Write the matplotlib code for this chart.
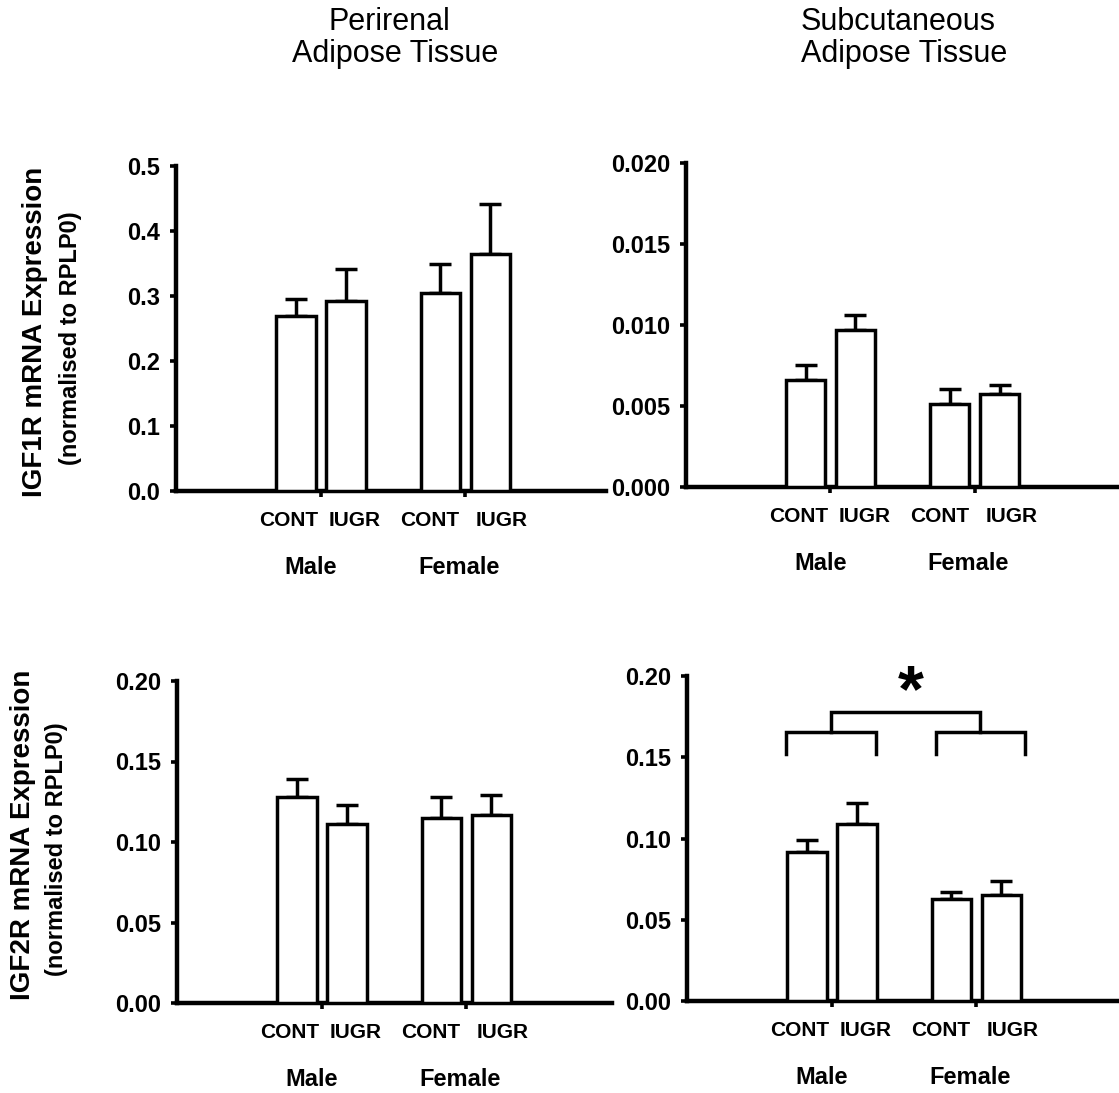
import matplotlib
matplotlib.use('Agg')
import matplotlib.pyplot as plt

plt.rcParams['font.family'] = ['Liberation Sans', 'DejaVu Sans']

# ---------------- data ----------------
groups = ['Male', 'Female']
bar_labels = ['CONT', 'IUGR', 'CONT', 'IUGR']

igf1r_peri_mean = [0.269, 0.292, 0.305, 0.364]
igf1r_peri_sem = [0.027, 0.050, 0.044, 0.078]

igf1r_subq_mean = [0.00658, 0.00971, 0.00514, 0.00574]
igf1r_subq_sem = [0.00093, 0.00088, 0.00091, 0.00053]

igf2r_peri_mean = [0.128, 0.111, 0.115, 0.117]
igf2r_peri_sem = [0.011, 0.012, 0.013, 0.012]

igf2r_subq_mean = [0.092, 0.109, 0.063, 0.0655]
igf2r_subq_sem = [0.007, 0.0128, 0.004, 0.0082]

igf1r_ticks = [0.0, 0.1, 0.2, 0.3, 0.4, 0.5]
igf1r_subq_ticks = [0.000, 0.005, 0.010, 0.015, 0.020]
igf2r_ticks = [0.00, 0.05, 0.10, 0.15, 0.20]

# ---------------- layout ----------------
W, H = 1119, 1093
fig = plt.figure(figsize=(W / 100, H / 100), dpi=100)

U = 42.0                      # pixels per x unit
pos = [0.0, 1.19, 3.43, 4.62]  # bar centres
group_centers = [(pos[0] + pos[1]) / 2, (pos[2] + pos[3]) / 2]
PX = 0.72                     # px -> pt

label_dx = [-7, 9, -10, 12]
group_dx = [-10, -6]


def panel(x0, x1, ytop, ybot, c, means, sems, ticks, fmt):
    ax = fig.add_axes([x0 / W, 1 - ybot / H, (x1 - x0) / W, (ybot - ytop) / H])
    ax.set_xlim((x0 - c) / U, (x1 - c) / U)
    ax.set_ylim(ticks[0], ticks[-1])
    ax.bar(pos, means, width=0.93, facecolor='white', edgecolor='black',
           linewidth=2.5, zorder=3)
    ax.errorbar(pos, means, yerr=[[0] * len(means), sems], fmt='none',
                ecolor='black', elinewidth=2.5, capsize=8, capthick=2.5,
                zorder=2)
    for s in ['top', 'right']:
        ax.spines[s].set_visible(False)
    for s in ['left', 'bottom']:
        ax.spines[s].set_linewidth(3.2)
    ax.set_yticks(ticks, labels=[fmt % t for t in ticks], fontsize=17,
                  fontweight='bold')
    ax.set_xticks(group_centers, labels=[])
    ax.tick_params(axis='both', direction='out', length=4.5, width=2.6)
    ax.tick_params(axis='y', pad=7)
    for i, p in enumerate(pos):
        ax.annotate(bar_labels[i], xy=(p, 0), xycoords=('data', 'axes fraction'),
                    xytext=(label_dx[i] * PX, -29 * PX), textcoords='offset points',
                    ha='center', va='center', fontsize=15, fontweight='bold')
    for i, g in enumerate(groups):
        ax.annotate(g, xy=(group_centers[i], 0), xycoords=('data', 'axes fraction'),
                    xytext=(group_dx[i] * PX, -77 * PX), textcoords='offset points',
                    ha='center', va='center', fontsize=17, fontweight='bold')
    return ax


ax1 = panel(176, 606, 166, 491, 296, igf1r_peri_mean, igf1r_peri_sem, igf1r_ticks, '%.1f')
ax2 = panel(686, 1119, 163, 487, 805.5, igf1r_subq_mean, igf1r_subq_sem, igf1r_subq_ticks, '%.3f')
ax3 = panel(177, 612, 681, 1003, 297, igf2r_peri_mean, igf2r_peri_sem, igf2r_ticks, '%.2f')
ax4 = panel(687, 1119, 676, 1001, 807, igf2r_subq_mean, igf2r_subq_sem, igf2r_ticks, '%.2f')

# significance brackets (sex effect) on bottom-right panel
leg_low, br_y, top_y = 0.1518, 0.1657, 0.178
left_br = (pos[0] - 0.50, pos[1] + 0.45)
right_br = (pos[2] - 0.37, pos[3] + 0.58)
for a, b in (left_br, right_br):
    ax4.plot([a, a, b, b], [leg_low, br_y, br_y, leg_low], color='black',
             lw=2.5, solid_joinstyle='miter', clip_on=False)
m1 = sum(left_br) / 2
m2 = sum(right_br) / 2
ax4.plot([m1, m1, m2, m2], [br_y, top_y, top_y, br_y], color='black',
         lw=2.5, solid_joinstyle='miter', clip_on=False)
ax4.text((m1 + m2) / 2 + 0.12, 0.1785, '*', ha='center', va='baseline',
         fontsize=48, fontweight='bold')

# column titles
fig.text(389 / W, 1 - 22 / H, 'Perirenal', ha='center', va='center', fontsize=22)
fig.text(395 / W, 1 - 54 / H, 'Adipose Tissue', ha='center', va='center', fontsize=22)
fig.text(898 / W, 1 - 22 / H, 'Subcutaneous', ha='center', va='center', fontsize=22)
fig.text(904 / W, 1 - 54 / H, 'Adipose Tissue', ha='center', va='center', fontsize=22)

# row y labels
fig.text(35 / W, 1 - 332 / H, 'IGF1R mRNA Expression', rotation=90,
         ha='center', va='center', fontsize=20, fontweight='bold')
fig.text(71 / W, 1 - 338 / H, '(normalised to RPLP0)', rotation=90,
         ha='center', va='center', fontsize=17, fontweight='bold')
fig.text(23 / W, 1 - 835 / H, 'IGF2R mRNA Expression', rotation=90,
         ha='center', va='center', fontsize=20, fontweight='bold')
fig.text(56 / W, 1 - 849 / H, '(normalised to RPLP0)', rotation=90,
         ha='center', va='center', fontsize=17, fontweight='bold')

fig.savefig('out.png', dpi=100)
